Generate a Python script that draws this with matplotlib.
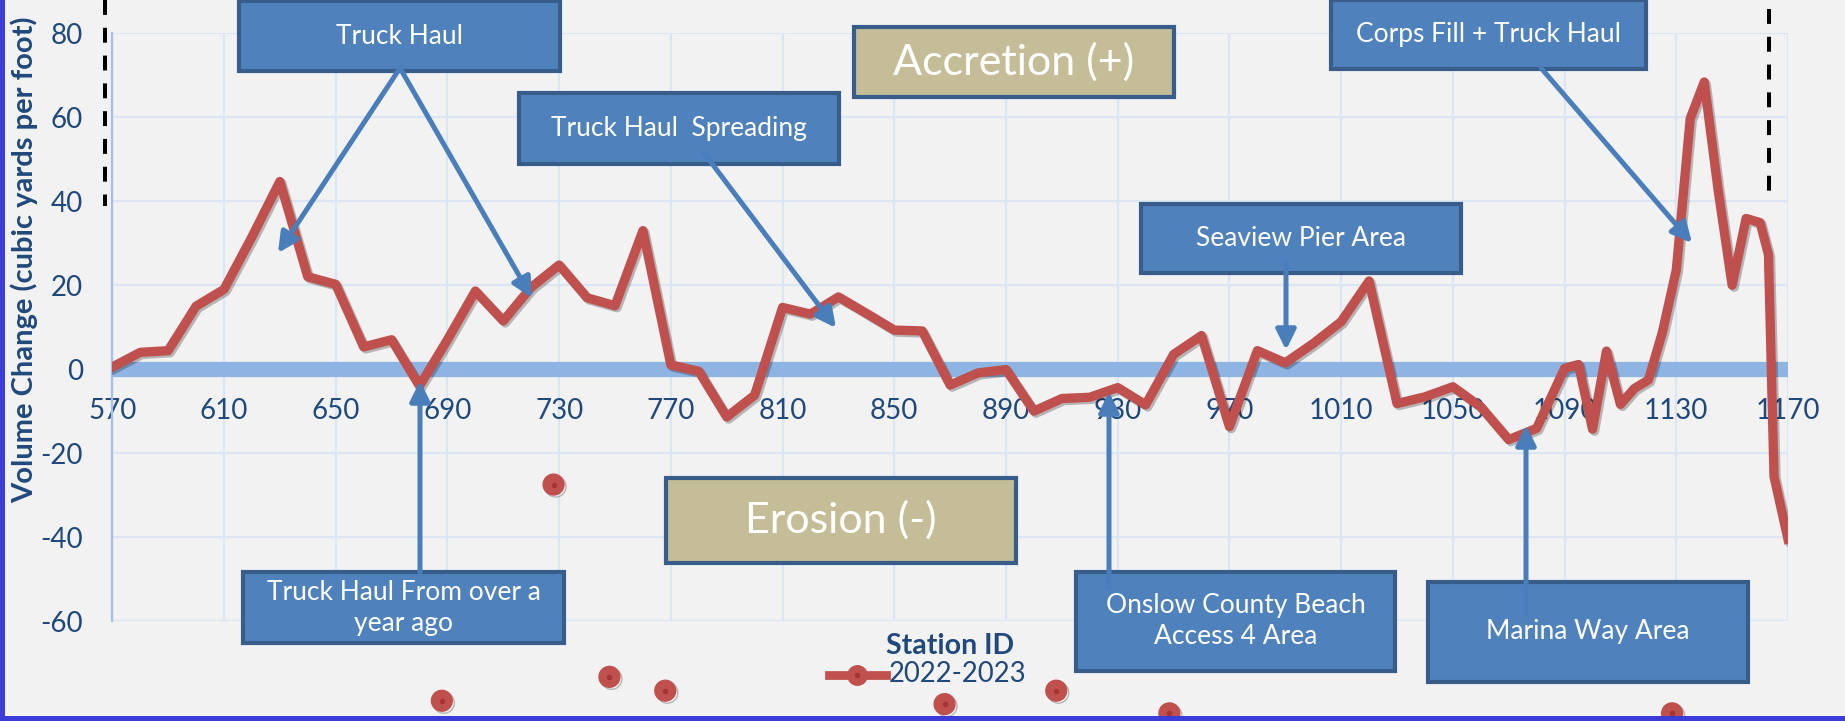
import matplotlib
matplotlib.use('Agg')
import matplotlib.pyplot as plt
import matplotlib.patheffects as pe
from matplotlib.patches import Rectangle, FancyArrowPatch
from matplotlib.lines import Line2D

W, H = 1845, 721

# station id / volume change (cubic yards per foot), 2022-2023
stations = [570, 580, 590, 600, 610, 620, 630, 640, 650, 660, 670, 680, 690, 700,
            710, 720, 730, 740, 750, 760, 770, 780, 790, 800, 810, 820, 830, 840,
            850, 860, 870, 880, 890, 900, 910, 920, 930, 940, 950, 960, 970, 980,
            990, 1000, 1010, 1020, 1030, 1040, 1050, 1060, 1070, 1080, 1090, 1095,
            1100, 1105, 1110, 1115, 1120, 1125, 1130, 1135, 1140, 1145, 1150, 1155,
            1160, 1163, 1165, 1170]
volume = [0.5, 4.0, 4.4, 15.0, 19.0, 31.5, 44.7, 22.0, 20.2, 5.3, 7.0, -4.0, 7.0, 18.6,
          11.5, 19.5, 24.8, 17.0, 15.1, 33.0, 1.0, -0.5, -11.4, -6.2, 14.7, 13.1, 17.2, 13.3,
          9.3, 9.1, -3.8, -0.9, -0.1, -10.0, -7.0, -6.7, -4.4, -8.5, 3.5, 8.0, -13.7, 4.4,
          1.5, 6.1, 11.3, 21.0, -8.2, -6.6, -4.2, -9.0, -16.8, -14.1, 0.2, 1.1,
          -14.3, 4.3, -8.4, -4.6, -2.6, 8.7, 23.6, 59.7, 68.4, 42.6, 20.0, 35.9,
          34.9, 27.3, -25.6, -40.5]

# loose markers that sit below the plot area
stray_x = [728, 688, 748, 768, 868, 908, 948.5, 1128.5]
stray_y = [-27.5, -79, -73.3, -76.6, -79.8, -76.6, -82, -82]

RED = '#c0504d'
NAVY = '#1f497d'
BOX = '#4f81bd'
EDGE = '#385d8a'
TAN = '#c4bd97'
ARROW = '#4a7ebb'

plt.rcParams['font.family'] = ['Lato', 'DejaVu Sans']
plt.rcParams['axes.unicode_minus'] = False


def fx(x):
    return x / W


def fy(y):
    return 1 - y / H


fig = plt.figure(figsize=(W / 100, H / 100), dpi=100, facecolor='#f2f2f2')
ax = fig.add_axes([fx(112.3), fy(621), (1788 - 112.3) / W, (621 - 33.3) / H])
ax.set_facecolor('#f2f2f2')
ax.set_xlim(570, 1170)
ax.set_ylim(-60, 80)
ax.set_xticks(range(570, 1171, 40))
ax.set_yticks(range(-60, 81, 20))
ax.grid(True, color='#dce6f2', lw=1.6)
ax.set_axisbelow(True)
for s in ['top', 'right', 'bottom']:
    ax.spines[s].set_visible(False)
ax.spines['left'].set_color('#a3c0e6')
ax.spines['left'].set_linewidth(1.6)
ax.spines['bottom'].set_position(('data', 0))
ax.tick_params(length=0, labelsize=20, labelcolor=NAVY)
ax.tick_params(axis='x', pad=21)
ax.tick_params(axis='y', pad=21)

ax.axhline(0, color='#8db4e2', lw=11, zorder=1.5)

shadow = [pe.SimpleLineShadow(offset=(1.5, -1.5), shadow_color='k', alpha=0.25), pe.Normal()]
ax.plot(stations, volume, color=RED, lw=6.7, solid_joinstyle='round', zorder=3,
        path_effects=shadow)
ax.plot(stray_x, stray_y, 'o', ms=15, color=RED, clip_on=False, zorder=3,
        path_effects=shadow)
ax.plot(stray_x, stray_y, 'o', ms=3, color='#a33633', clip_on=False, zorder=4)

# dashed project limits
for x, y0, y1 in [(105.3, 0, 206), (1769.3, 9, 194)]:
    fig.add_artist(Line2D([fx(x), fx(x)], [fy(y0), fy(y1)], transform=fig.transFigure,
                          color='black', lw=2.9, linestyle=(0, (3.7, 3.2)), zorder=1))

# callout boxes: left, top, right, bottom (pixels), text, fill, font size
boxes = [
    (239, 1, 560, 71, 'Truck Haul', BOX, 19),
    (519, 93, 839, 164, 'Truck Haul  Spreading', BOX, 19),
    (854, 27, 1174, 97, 'Accretion (+)', TAN, 31),
    (1141, 204, 1461, 273, 'Seaview Pier Area', BOX, 19),
    (1331, 0, 1646, 69, 'Corps Fill + Truck Haul', BOX, 19),
    (666, 478, 1016, 563, 'Erosion (-)', TAN, 31),
    (243, 572, 564, 643, 'Truck Haul From over a\nyear ago', BOX, 19),
    (1076, 572, 1395, 671, 'Onslow County Beach\nAccess 4 Area', BOX, 19),
    (1428, 582, 1748, 682, 'Marina Way Area', BOX, 19),
]
for x0, y0, x1, y1, label, color, size in boxes:
    fig.add_artist(Rectangle((fx(x0), fy(y1)), (x1 - x0) / W, (y1 - y0) / H,
                             transform=fig.transFigure, facecolor=color,
                             edgecolor=EDGE, lw=3, zorder=1))
    fig.text(fx((x0 + x1) / 2), fy((y0 + y1) / 2), label, ha='center', va='center',
             color='white', size=size, linespacing=1.3, zorder=3)

arrows = [
    (400, 68, 278, 253),
    (400, 68, 532, 298),
    (704, 153, 836, 328),
    (1286, 263, 1286, 350),
    (1541, 68, 1692, 243),
    (420, 572, 420, 381),
    (1109, 588, 1109, 392),
    (1526, 613, 1526, 425),
]
for x0, y0, x1, y1 in arrows:
    fig.add_artist(FancyArrowPatch((fx(x0), fy(y0)), (fx(x1), fy(y1)),
                                   transform=fig.transFigure, arrowstyle='-|>',
                                   mutation_scale=30, lw=3.6, color=ARROW,
                                   shrinkA=0, shrinkB=0, zorder=2))

# axis titles and legend
fig.text(fx(24.5), fy(259.5), 'Volume Change (cubic yards per foot)', rotation=90,
         ha='center', va='center', fontweight='bold', size=21, color=NAVY)
fig.text(fx(950), fy(646), 'Station ID', ha='center', va='center',
         fontweight='bold', size=20.5, color=NAVY)
fig.add_artist(Line2D([fx(828.5), fx(885.5)], [fy(675), fy(675)], transform=fig.transFigure,
                      color=RED, lw=6.3, zorder=2))
fig.add_artist(Line2D([fx(857)], [fy(675)], transform=fig.transFigure, marker='o',
                      ms=14, color=RED, zorder=2))
fig.add_artist(Line2D([fx(857)], [fy(675)], transform=fig.transFigure, marker='o',
                      ms=3, color='#a33633', zorder=2))
fig.text(fx(888.6), fy(674), '2022-2023', ha='left', va='center', size=19.8, color=NAVY)

# blue frame on the left and bottom edges
fig.add_artist(Rectangle((0, 0), 5 / W, 1, transform=fig.transFigure,
                         facecolor='#3c3cd8', edgecolor='none', zorder=5))
fig.add_artist(Rectangle((0, 0), 1, 5 / H, transform=fig.transFigure,
                         facecolor='#3c3cd8', edgecolor='none', zorder=5))

fig.savefig('out.png', dpi=100, facecolor=fig.get_facecolor())
